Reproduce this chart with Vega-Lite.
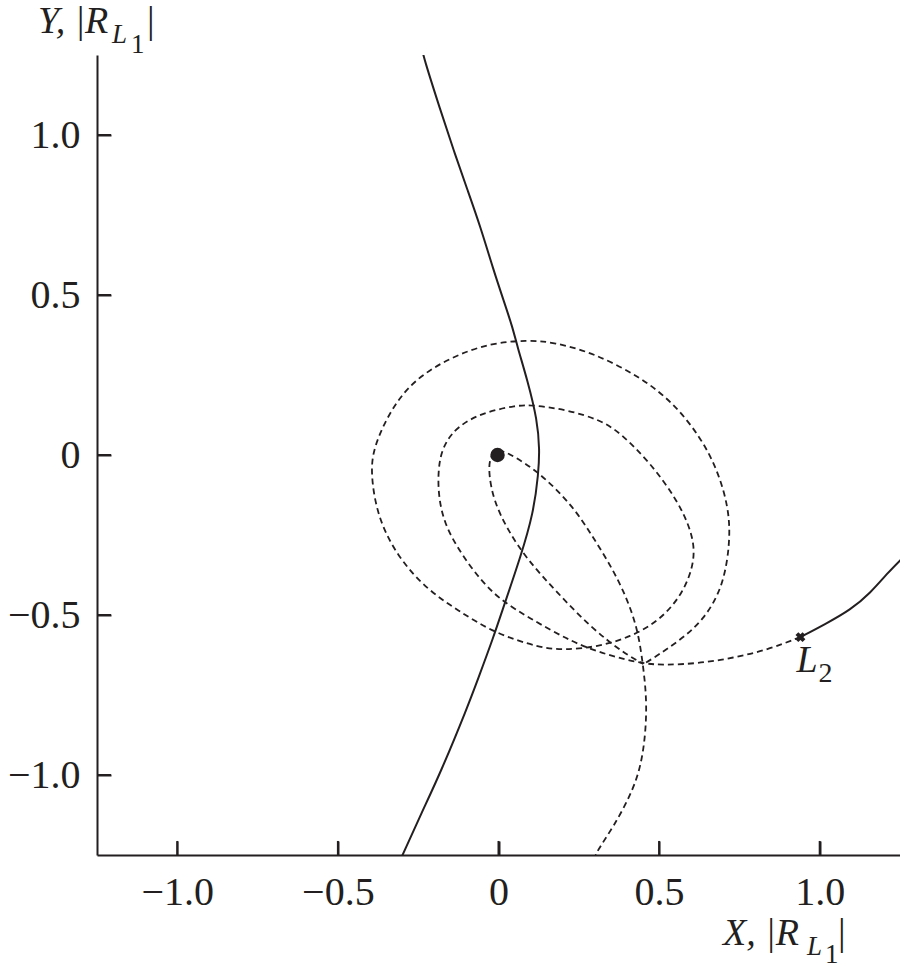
{
  "$schema": "https://vega.github.io/schema/vega-lite/v6.json",
  "width": 803,
  "height": 800,
  "autosize": "none",
  "padding": {"left": 97, "top": 55, "right": 0, "bottom": 117},
  "background": "white",
  "config": {"view": {"stroke": null}},
  "resolve": {"axis": {"x": "independent", "y": "independent"}},
  "datasets": {
    "tickvals": [{"v": -1}, {"v": -0.5}, {"v": 0}, {"v": 0.5}, {"v": 1}],
    "curves": [
      {"c": "s1", "i": 0, "x": -0.237, "y": 1.266},
      {"c": "s1", "i": 1, "x": -0.2335, "y": 1.244},
      {"c": "s1", "i": 2, "x": -0.181, "y": 1.078},
      {"c": "s1", "i": 3, "x": -0.14, "y": 0.953},
      {"c": "s1", "i": 4, "x": -0.0965, "y": 0.828},
      {"c": "s1", "i": 5, "x": -0.056, "y": 0.7125},
      {"c": "s1", "i": 6, "x": -0.0156, "y": 0.578},
      {"c": "s1", "i": 7, "x": 0.0156, "y": 0.484},
      {"c": "s1", "i": 8, "x": 0.0436, "y": 0.4},
      {"c": "s1", "i": 9, "x": 0.059, "y": 0.3375},
      {"c": "s1", "i": 10, "x": 0.09, "y": 0.234},
      {"c": "s1", "i": 11, "x": 0.121, "y": 0.109},
      {"c": "s1", "i": 12, "x": 0.128, "y": 0.016},
      {"c": "s1", "i": 13, "x": 0.1245, "y": -0.056},
      {"c": "s1", "i": 14, "x": 0.109, "y": -0.181},
      {"c": "s1", "i": 15, "x": 0.0685, "y": -0.319},
      {"c": "s1", "i": 16, "x": 0.0156, "y": -0.475},
      {"c": "s1", "i": 17, "x": -0.0156, "y": -0.569},
      {"c": "s1", "i": 18, "x": -0.065, "y": -0.703},
      {"c": "s1", "i": 19, "x": -0.0965, "y": -0.7875},
      {"c": "s1", "i": 20, "x": -0.181, "y": -0.994},
      {"c": "s1", "i": 21, "x": -0.24, "y": -1.119},
      {"c": "s1", "i": 22, "x": -0.296, "y": -1.244},
      {"c": "s1", "i": 23, "x": -0.306, "y": -1.266},

      {"c": "s2", "i": 0, "x": 0.94, "y": -0.569},
      {"c": "s2", "i": 1, "x": 1.018, "y": -0.528},
      {"c": "s2", "i": 2, "x": 1.096, "y": -0.484},
      {"c": "s2", "i": 3, "x": 1.158, "y": -0.431},
      {"c": "s2", "i": 4, "x": 1.211, "y": -0.369},
      {"c": "s2", "i": 5, "x": 1.2516, "y": -0.328},
      {"c": "s2", "i": 6, "x": 1.298, "y": -0.281},

      {"c": "d1", "i": 0, "x": 0.299, "y": -1.266},
      {"c": "d1", "i": 1, "x": 0.302, "y": -1.244},
      {"c": "d1", "i": 2, "x": 0.358, "y": -1.1625},
      {"c": "d1", "i": 3, "x": 0.42, "y": -1.047},
      {"c": "d1", "i": 4, "x": 0.451, "y": -0.944},
      {"c": "d1", "i": 5, "x": 0.464, "y": -0.7875},
      {"c": "d1", "i": 6, "x": 0.451, "y": -0.6625},
      {"c": "d1", "i": 7, "x": 0.433, "y": -0.5375},
      {"c": "d1", "i": 8, "x": 0.389, "y": -0.422},
      {"c": "d1", "i": 9, "x": 0.339, "y": -0.328},
      {"c": "d1", "i": 10, "x": 0.286, "y": -0.244},
      {"c": "d1", "i": 11, "x": 0.2335, "y": -0.1625},
      {"c": "d1", "i": 12, "x": 0.131, "y": -0.056},
      {"c": "d1", "i": 13, "x": 0.028, "y": 0.009},
      {"c": "d1", "i": 14, "x": -0.003, "y": 0.016},
      {"c": "d1", "i": 15, "x": -0.027, "y": -0.004},
      {"c": "d1", "i": 16, "x": -0.031, "y": -0.056},
      {"c": "d1", "i": 17, "x": -0.0156, "y": -0.141},
      {"c": "d1", "i": 18, "x": 0.028, "y": -0.234},
      {"c": "d1", "i": 19, "x": 0.09, "y": -0.328},
      {"c": "d1", "i": 20, "x": 0.184, "y": -0.431},
      {"c": "d1", "i": 21, "x": 0.286, "y": -0.5375},
      {"c": "d1", "i": 22, "x": 0.389, "y": -0.619},
      {"c": "d1", "i": 23, "x": 0.451, "y": -0.653},

      {"c": "d2", "i": 0, "x": 0.94, "y": -0.569},
      {"c": "d2", "i": 1, "x": 0.8375, "y": -0.609},
      {"c": "d2", "i": 2, "x": 0.7316, "y": -0.634},
      {"c": "d2", "i": 3, "x": 0.62, "y": -0.652},
      {"c": "d2", "i": 4, "x": 0.514, "y": -0.656},
      {"c": "d2", "i": 5, "x": 0.451, "y": -0.653},
      {"c": "d2", "i": 6, "x": 0.339, "y": -0.625},
      {"c": "d2", "i": 7, "x": 0.2335, "y": -0.5875},
      {"c": "d2", "i": 8, "x": 0.09, "y": -0.506},
      {"c": "d2", "i": 9, "x": 0.006, "y": -0.453},
      {"c": "d2", "i": 10, "x": -0.056, "y": -0.391},
      {"c": "d2", "i": 11, "x": -0.118, "y": -0.306},
      {"c": "d2", "i": 12, "x": -0.171, "y": -0.2125},
      {"c": "d2", "i": 13, "x": -0.19, "y": -0.109},
      {"c": "d2", "i": 14, "x": -0.185, "y": -0.01},
      {"c": "d2", "i": 15, "x": -0.162, "y": 0.045},
      {"c": "d2", "i": 16, "x": -0.128, "y": 0.0875},
      {"c": "d2", "i": 17, "x": -0.056, "y": 0.131},
      {"c": "d2", "i": 18, "x": 0.059, "y": 0.156},
      {"c": "d2", "i": 19, "x": 0.109, "y": 0.156},
      {"c": "d2", "i": 20, "x": 0.215, "y": 0.141},
      {"c": "d2", "i": 21, "x": 0.318, "y": 0.109},
      {"c": "d2", "i": 22, "x": 0.38, "y": 0.069},
      {"c": "d2", "i": 23, "x": 0.473, "y": -0.025},
      {"c": "d2", "i": 24, "x": 0.557, "y": -0.141},
      {"c": "d2", "i": 25, "x": 0.604, "y": -0.244},
      {"c": "d2", "i": 26, "x": 0.613, "y": -0.328},
      {"c": "d2", "i": 27, "x": 0.576, "y": -0.431},
      {"c": "d2", "i": 28, "x": 0.504, "y": -0.516},
      {"c": "d2", "i": 29, "x": 0.411, "y": -0.569},
      {"c": "d2", "i": 30, "x": 0.308, "y": -0.6},
      {"c": "d2", "i": 31, "x": 0.202, "y": -0.609},
      {"c": "d2", "i": 32, "x": 0.131, "y": -0.603},
      {"c": "d2", "i": 33, "x": -0.0156, "y": -0.556},
      {"c": "d2", "i": 34, "x": -0.128, "y": -0.484},
      {"c": "d2", "i": 35, "x": -0.221, "y": -0.422},
      {"c": "d2", "i": 36, "x": -0.314, "y": -0.319},
      {"c": "d2", "i": 37, "x": -0.377, "y": -0.194},
      {"c": "d2", "i": 38, "x": -0.3985, "y": -0.056},
      {"c": "d2", "i": 39, "x": -0.389, "y": 0.025},
      {"c": "d2", "i": 40, "x": -0.336, "y": 0.141},
      {"c": "d2", "i": 41, "x": -0.265, "y": 0.234},
      {"c": "d2", "i": 42, "x": -0.149, "y": 0.306},
      {"c": "d2", "i": 43, "x": -0.025, "y": 0.35},
      {"c": "d2", "i": 44, "x": 0.09, "y": 0.359},
      {"c": "d2", "i": 45, "x": 0.171, "y": 0.353},
      {"c": "d2", "i": 46, "x": 0.296, "y": 0.319},
      {"c": "d2", "i": 47, "x": 0.442, "y": 0.244},
      {"c": "d2", "i": 48, "x": 0.545, "y": 0.1625},
      {"c": "d2", "i": 49, "x": 0.629, "y": 0.056},
      {"c": "d2", "i": 50, "x": 0.682, "y": -0.047},
      {"c": "d2", "i": 51, "x": 0.716, "y": -0.1625},
      {"c": "d2", "i": 52, "x": 0.722, "y": -0.266},
      {"c": "d2", "i": 53, "x": 0.7, "y": -0.4125},
      {"c": "d2", "i": 54, "x": 0.638, "y": -0.516},
      {"c": "d2", "i": 55, "x": 0.567, "y": -0.578},
      {"c": "d2", "i": 56, "x": 0.473, "y": -0.641},
      {"c": "d2", "i": 57, "x": 0.451, "y": -0.653}
    ],
    "pts": [
      {"name": "body", "x": -0.003, "y": 0.0},
      {"name": "L2", "x": 0.94, "y": -0.569}
    ]
  },
  "layer": [
    {
      "data": {"name": "curves"},
      "transform": [{"filter": "datum.c === 's1' || datum.c === 's2'"}],
      "mark": {"type": "line", "clip": true, "color": "#231f20", "strokeWidth": 2, "interpolate": "basis"},
      "encoding": {
        "x": {"field": "x", "type": "quantitative", "title": null,
          "scale": {"domain": [-1.25, 1.25], "nice": false, "zero": false},
          "axis": {"values": [-1, -0.5, 0, 0.5, 1], "grid": false, "ticks": false,
            "domainColor": "#231f20", "domainWidth": 2, "labelFont": "Liberation Serif", "labelFontSize": 40, "labelColor": "#231f20",
            "labelPadding": 17, "labelExpr": "datum.value == 0 ? '0' : format(datum.value, '.1f')", "title": null}},
        "y": {"field": "y", "type": "quantitative", "title": null,
          "scale": {"domain": [-1.25, 1.25], "nice": false, "zero": false},
          "axis": {"values": [-1, -0.5, 0, 0.5, 1], "grid": false, "ticks": false,
            "domainColor": "#231f20", "domainWidth": 2, "labelFont": "Liberation Serif", "labelFontSize": 40, "labelColor": "#231f20",
            "labelPadding": 17, "labelExpr": "datum.value == 0 ? '0' : format(datum.value, '.1f')", "title": null}},
        "detail": {"field": "c"},
        "order": {"field": "i", "type": "quantitative"}
      }
    },
    {
      "data": {"name": "curves"},
      "transform": [{"filter": "datum.c === 'd1' || datum.c === 'd2'"}],
      "mark": {"type": "line", "clip": true, "color": "#231f20", "strokeWidth": 1.8, "strokeDash": [6, 4], "interpolate": "basis"},
      "encoding": {
        "x": {"field": "x", "type": "quantitative", "title": null,
          "axis": {"values": [-1, -0.5, 0, 0.5, 1], "grid": false, "domain": false, "labels": false, "ticks": true,
            "tickSize": 14, "tickWidth": 2, "tickColor": "#231f20", "offset": -800, "title": null}},
        "y": {"field": "y", "type": "quantitative", "title": null,
          "axis": {"values": [-1, -0.5, 0, 0.5, 1], "grid": false, "domain": false, "labels": false, "ticks": true,
            "tickSize": 14, "tickWidth": 2, "tickColor": "#231f20", "offset": -803, "title": null}},
        "detail": {"field": "c"},
        "order": {"field": "i", "type": "quantitative"}
      }
    },
    {
      "data": {"name": "tickvals"},
      "mark": {"type": "tick", "orient": "vertical", "color": "#231f20", "size": 14, "thickness": 2, "opacity": 1},
      "encoding": {
        "x": {"field": "v", "type": "quantitative", "axis": null},
        "y": {"datum": -1.228, "type": "quantitative", "axis": null}
      }
    },
    {
      "data": {"name": "tickvals"},
      "mark": {"type": "tick", "orient": "horizontal", "color": "#231f20", "size": 14, "thickness": 2, "opacity": 1},
      "encoding": {
        "y": {"field": "v", "type": "quantitative", "axis": null},
        "x": {"datum": -1.2282, "type": "quantitative", "axis": null}
      }
    },
    {
      "data": {"name": "pts"},
      "transform": [{"filter": "datum.name === 'body'"}],
      "mark": {"type": "point", "shape": "circle", "filled": true, "color": "#231f20", "size": 210, "opacity": 1},
      "encoding": {
        "x": {"field": "x", "type": "quantitative", "axis": null},
        "y": {"field": "y", "type": "quantitative", "axis": null}
      }
    },
    {
      "data": {"name": "pts"},
      "transform": [{"filter": "datum.name === 'L2'"}],
      "mark": {"type": "point", "shape": "cross", "filled": true, "color": "#231f20", "size": 100, "angle": 45, "opacity": 1},
      "encoding": {
        "x": {"field": "x", "type": "quantitative", "axis": null},
        "y": {"field": "y", "type": "quantitative", "axis": null}
      }
    },
    {
      "data": {"name": "pts"},
      "transform": [{"filter": "datum.name === 'L2'"}, {"calculate": "'L'", "as": "t"}],
      "mark": {"type": "text", "font": "Liberation Serif", "fontStyle": "italic", "fontSize": 38, "align": "left", "baseline": "alphabetic", "dx": -4, "dy": 35, "color": "#231f20"},
      "encoding": {
        "x": {"field": "x", "type": "quantitative", "axis": null},
        "y": {"field": "y", "type": "quantitative", "axis": null},
        "text": {"field": "t"}
      }
    },
    {
      "data": {"name": "pts"},
      "transform": [{"filter": "datum.name === 'L2'"}, {"calculate": "'2'", "as": "t"}],
      "mark": {"type": "text", "font": "Liberation Serif", "fontSize": 28, "align": "left", "baseline": "alphabetic", "dx": 18, "dy": 45, "color": "#231f20"},
      "encoding": {
        "x": {"field": "x", "type": "quantitative", "axis": null},
        "y": {"field": "y", "type": "quantitative", "axis": null},
        "text": {"field": "t"}
      }
    },
    {
      "data": {"values": [{"t": "Y, |R"}]},
      "mark": {"type": "text", "font": "Liberation Serif", "fontStyle": "italic", "fontSize": 38, "align": "left", "baseline": "alphabetic", "dx": -59, "dy": -22, "color": "#231f20"},
      "encoding": {"x": {"datum": -1.25, "type": "quantitative", "axis": null}, "y": {"datum": 1.25, "type": "quantitative", "axis": null}, "text": {"field": "t"}}
    },
    {
      "data": {"values": [{"t": "L"}]},
      "mark": {"type": "text", "font": "Liberation Serif", "fontStyle": "italic", "fontSize": 27, "align": "left", "baseline": "alphabetic", "dx": 15, "dy": -12, "color": "#231f20"},
      "encoding": {"x": {"datum": -1.25, "type": "quantitative", "axis": null}, "y": {"datum": 1.25, "type": "quantitative", "axis": null}, "text": {"field": "t"}}
    },
    {
      "data": {"values": [{"t": "1"}]},
      "mark": {"type": "text", "font": "Liberation Serif", "fontSize": 27, "align": "left", "baseline": "alphabetic", "dx": 34, "dy": -2, "color": "#231f20"},
      "encoding": {"x": {"datum": -1.25, "type": "quantitative", "axis": null}, "y": {"datum": 1.25, "type": "quantitative", "axis": null}, "text": {"field": "t"}}
    },
    {
      "data": {"values": [{"t": "|"}]},
      "mark": {"type": "text", "font": "Liberation Serif", "fontSize": 38, "align": "left", "baseline": "alphabetic", "dx": 50, "dy": -22, "color": "#231f20"},
      "encoding": {"x": {"datum": -1.25, "type": "quantitative", "axis": null}, "y": {"datum": 1.25, "type": "quantitative", "axis": null}, "text": {"field": "t"}}
    },
    {
      "data": {"values": [{"t": "X, |R"}]},
      "mark": {"type": "text", "font": "Liberation Serif", "fontStyle": "italic", "fontSize": 38, "align": "left", "baseline": "alphabetic", "dx": -177, "dy": 90, "color": "#231f20"},
      "encoding": {"x": {"datum": 1.25, "type": "quantitative", "axis": null}, "y": {"datum": -1.25, "type": "quantitative", "axis": null}, "text": {"field": "t"}}
    },
    {
      "data": {"values": [{"t": "L"}]},
      "mark": {"type": "text", "font": "Liberation Serif", "fontStyle": "italic", "fontSize": 27, "align": "left", "baseline": "alphabetic", "dx": -93, "dy": 100, "color": "#231f20"},
      "encoding": {"x": {"datum": 1.25, "type": "quantitative", "axis": null}, "y": {"datum": -1.25, "type": "quantitative", "axis": null}, "text": {"field": "t"}}
    },
    {
      "data": {"values": [{"t": "1"}]},
      "mark": {"type": "text", "font": "Liberation Serif", "fontSize": 27, "align": "left", "baseline": "alphabetic", "dx": -75, "dy": 108, "color": "#231f20"},
      "encoding": {"x": {"datum": 1.25, "type": "quantitative", "axis": null}, "y": {"datum": -1.25, "type": "quantitative", "axis": null}, "text": {"field": "t"}}
    },
    {
      "data": {"values": [{"t": "|"}]},
      "mark": {"type": "text", "font": "Liberation Serif", "fontSize": 38, "align": "left", "baseline": "alphabetic", "dx": -62, "dy": 90, "color": "#231f20"},
      "encoding": {"x": {"datum": 1.25, "type": "quantitative", "axis": null}, "y": {"datum": -1.25, "type": "quantitative", "axis": null}, "text": {"field": "t"}}
    }
  ]
}
